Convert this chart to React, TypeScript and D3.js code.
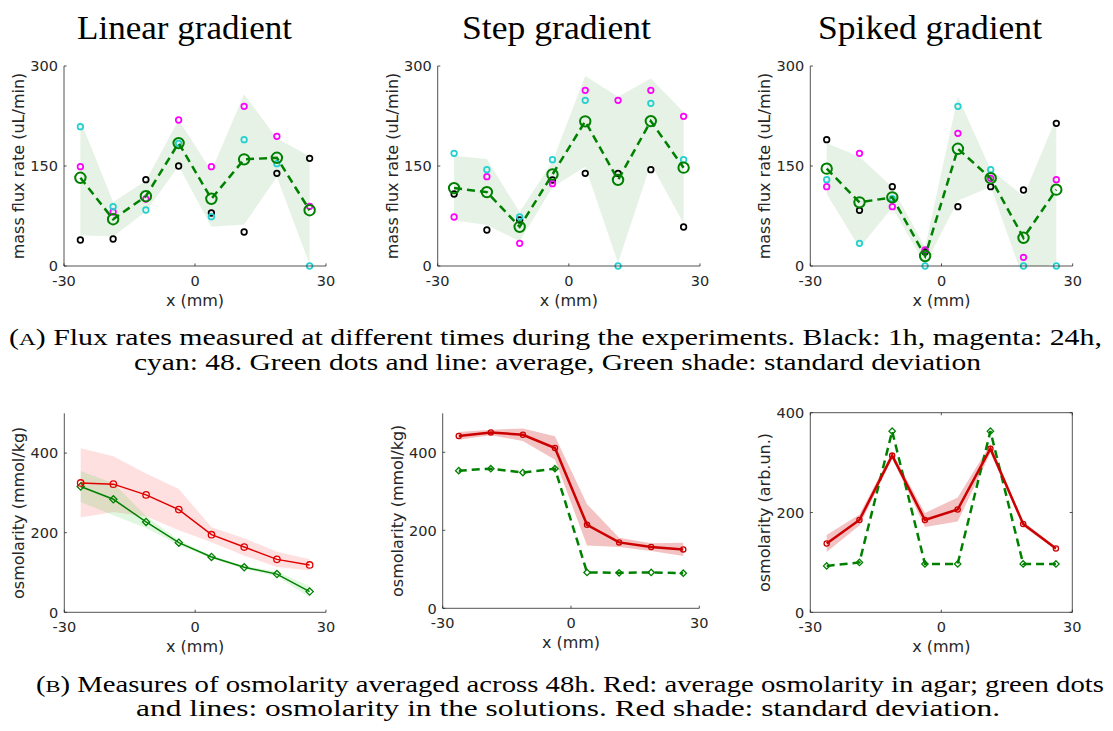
import React from 'react';
import * as d3 from 'd3';

// ---------- DATA ----------
const xPositions = [-26.25, -18.75, -11.25, -3.75, 3.75, 11.25, 18.75, 26.25];

// Flux rates (uL/min): black = 1h, magenta = 24h, cyan = 48h
const linearBlack = [39, 40.5, 129.5, 150, 79.5, 51, 139, 161.5];
const linearMagenta = [149, 81, 100.5, 219, 149, 239.5, 194.5, 89.5];
const linearCyan = [209, 89, 84, 184, 74, 189.5, 153.5, 0];

const stepBlack = [108, 54, 69, 129, 139, 139, 144.5, 58.5];
const stepMagenta = [73.5, 134, 34, 123.5, 263.5, 248.5, 263.5, 224.5];
const stepCyan = [169, 144.5, 73.5, 159.5, 248.5, 0, 244, 159.5];

const spikedBlack = [189.5, 83.5, 119, 21, 89, 119, 114, 214];
const spikedMagenta = [119, 169, 89, 24, 199, 131.5, 13, 129.5];
const spikedCyan = [129.5, 34, 101, 0, 239.5, 144.5, 0, 0];

// Osmolarity
const linearAgar = [325, 322, 295, 258, 195, 164, 133, 119];
const linearAgarSd = [87, 70, 54, 52, 19, 22, 19, 14];
const linearSolution = [316, 284, 227, 175, 139, 113, 96, 52];
const linearSolutionSd = [39, 40, 15, 6, 4, 4, 6, 14];

const stepAgar = [442, 451, 445, 411, 214, 169, 157, 151];
const stepAgarSd = [10, 7, 16, 30, 53, 12, 10, 17];
const stepSolution = [353, 358, 348, 358, 92, 91, 92, 90];

const spikedAgar = [138, 185, 314, 185, 206, 328, 177, 128];
const spikedAgarSd = [17, 11, 6, 14, 24, 9, 5, 3];
const spikedSolution = [93, 100, 363, 97, 97, 363, 97, 97];

const xTicks = [-30, 0, 30];
const fluxTicks = [0, 150, 300];
const osmoTicks = [0, 200, 400];

const titles = ['Linear gradient', 'Step gradient', 'Spiked gradient'];

// ---------- STYLE ----------
const AX = '#262626';
const SANS = 'DejaVu Sans';
const SERIF = 'Liberation Serif';
const GREEN = '#008000';
const CYAN = '#22d0d0';
const MAGENTA = '#ff00ff';

type Box = { left: number; right: number; top: number; bottom: number };

function Axes({ box, x, y, yTicks, yLabel, boxed }: any) {
  const tl = 2.6;
  return (
    <g>
      <line x1={box.left} y1={box.top} x2={box.left} y2={box.bottom} stroke={AX} strokeWidth={0.8} />
      <line x1={box.left} y1={box.bottom} x2={box.right} y2={box.bottom} stroke={AX} strokeWidth={0.8} />
      {boxed && (
        <g>
          <line x1={box.left} y1={box.top} x2={box.right} y2={box.top} stroke={AX} strokeWidth={0.8} />
          <line x1={box.right} y1={box.top} x2={box.right} y2={box.bottom} stroke={AX} strokeWidth={0.8} />
        </g>
      )}
      {yTicks.map((t: number) => (
        <g key={'y' + t}>
          <line x1={box.left} x2={box.left + tl} y1={y(t)} y2={y(t)} stroke={AX} strokeWidth={0.8} />
          {boxed && <line x1={box.right} x2={box.right - tl} y1={y(t)} y2={y(t)} stroke={AX} strokeWidth={0.8} />}
          <text x={box.left - 6} y={y(t)} dy="0.36em" textAnchor="end" fontFamily={SANS} fontSize={14.5} fill={AX}>
            {t}
          </text>
        </g>
      ))}
      {xTicks.map((t) => (
        <g key={'x' + t}>
          <line x1={x(t)} x2={x(t)} y1={box.bottom} y2={box.bottom - tl} stroke={AX} strokeWidth={0.8} />
          {boxed && <line x1={x(t)} x2={x(t)} y1={box.top} y2={box.top + tl} stroke={AX} strokeWidth={0.8} />}
          <text x={x(t)} y={box.bottom + 19.5} textAnchor="middle" fontFamily={SANS} fontSize={14.5} fill={AX}>
            {t}
          </text>
        </g>
      ))}
      <text
        x={(box.left + box.right) / 2}
        y={box.bottom + 40}
        textAnchor="middle"
        fontFamily={SANS}
        fontSize={16}
        fill={AX}
      >
        x (mm)
      </text>
      <text
        transform={`translate(${box.left - 40},${(box.top + box.bottom) / 2}) rotate(-90)`}
        textAnchor="middle"
        fontFamily={SANS}
        fontSize={16}
        fill={AX}
      >
        {yLabel}
      </text>
    </g>
  );
}

function FluxPanel({ id, box, black, magenta, cyan }: { id: string; box: Box; black: number[]; magenta: number[]; cyan: number[] }) {
  const x = d3.scaleLinear().domain([-30, 30]).range([box.left, box.right]);
  const y = d3.scaleLinear().domain([0, 300]).range([box.bottom, box.top]);
  const mean = xPositions.map((_, i) => d3.mean([black[i], magenta[i], cyan[i]]) as number);
  const sd = xPositions.map((_, i) => d3.deviation([black[i], magenta[i], cyan[i]]) as number);
  const area = d3
    .area<number>()
    .x((_, i) => x(xPositions[i]))
    .y0((m, i) => y(m - sd[i]))
    .y1((m, i) => y(m + sd[i]));
  const line = d3
    .line<number>()
    .x((_, i) => x(xPositions[i]))
    .y((m) => y(m));
  const series: [number[], string][] = [
    [black, '#000000'],
    [magenta, MAGENTA],
    [cyan, CYAN],
  ];
  return (
    <g>
      <defs>
        <clipPath id={id}>
          <rect x={box.left} y={box.top} width={box.right - box.left} height={box.bottom - box.top} />
        </clipPath>
      </defs>
      <path d={area(mean) || ''} fill={GREEN} fillOpacity={0.1} clipPath={`url(#${id})`} />
      {series.map(([vals, col], s) =>
        vals.map((v, i) => (
          <circle key={s + '-' + i} cx={x(xPositions[i])} cy={y(v)} r={2.8} fill="none" stroke={col} strokeWidth={1.7} />
        ))
      )}
      <path d={line(mean) || ''} fill="none" stroke={GREEN} strokeWidth={2.5} strokeDasharray="8,5" />
      {mean.map((m, i) => (
        <circle key={'m' + i} cx={x(xPositions[i])} cy={y(m)} r={5.2} fill="none" stroke={GREEN} strokeWidth={2} />
      ))}
      <Axes box={box} x={x} y={y} yTicks={fluxTicks} yLabel="mass flux rate (uL/min)" />
    </g>
  );
}

function diamond(cx: number, cy: number, r: number) {
  return `M${cx},${cy - r}L${cx + r},${cy}L${cx},${cy + r}L${cx - r},${cy}Z`;
}

function OsmoPanel({
  id,
  box,
  yMax,
  agar,
  agarSd,
  solution,
  solutionSd,
  thick,
  boxed,
  yLabel,
  agarColor,
  agarShadeOpacity,
}: any) {
  const x = d3.scaleLinear().domain([-30, 30]).range([box.left, box.right]);
  const y = d3.scaleLinear().domain([0, yMax]).range([box.bottom, box.top]);
  const band = (sd: number[]) =>
    d3
      .area<number>()
      .x((_, i) => x(xPositions[i]))
      .y0((m, i) => y(m - sd[i]))
      .y1((m, i) => y(m + sd[i]));
  const line = d3
    .line<number>()
    .x((_, i) => x(xPositions[i]))
    .y((m) => y(m));
  const lw = thick ? 2.5 : 1.5;
  return (
    <g>
      <defs>
        <clipPath id={id}>
          <rect x={box.left} y={box.top} width={box.right - box.left} height={box.bottom - box.top} />
        </clipPath>
      </defs>
      <g clipPath={`url(#${id})`}>
        <path d={band(agarSd)(agar) || ''} fill={thick ? '#cc0000' : '#ff0000'} fillOpacity={agarShadeOpacity} />
        {solutionSd && <path d={band(solutionSd)(solution) || ''} fill="#00c000" fillOpacity={0.13} />}
      </g>
      <path
        d={line(solution) || ''}
        fill="none"
        stroke={GREEN}
        strokeWidth={lw}
        strokeDasharray={thick ? '8,5' : undefined}
      />
      {solution.map((v: number, i: number) => (
        <path key={'s' + i} d={diamond(x(xPositions[i]), y(v), thick ? 3.2 : 3.6)} fill="none" stroke={GREEN} strokeWidth={1.3} />
      ))}
      <path d={line(agar) || ''} fill="none" stroke={agarColor} strokeWidth={lw} />
      {agar.map((v: number, i: number) => (
        <circle key={'a' + i} cx={x(xPositions[i])} cy={y(v)} r={thick ? 2.6 : 3.2} fill="none" stroke={agarColor} strokeWidth={1.3} />
      ))}
      <Axes box={box} x={x} y={y} yTicks={osmoTicks} yLabel={yLabel} boxed={boxed} />
    </g>
  );
}

const fluxBoxes: Box[] = [
  { left: 64, right: 326, top: 66, bottom: 266 },
  { left: 437.7, right: 700, top: 66, bottom: 266 },
  { left: 810.3, right: 1072.7, top: 66, bottom: 266 },
];
const osmoBoxes: Box[] = [
  { left: 64.3, right: 326, top: 413.3, bottom: 612.3 },
  { left: 442.7, right: 699.3, top: 413.3, bottom: 608.3 },
  { left: 810.3, right: 1072.3, top: 412.7, bottom: 612.3 },
];
const titleSpans = [
  [77, 292],
  [462, 651],
  [818, 1042],
];

export default function App() {
  const capSize = 22.5;
  return (
    <svg
      width={1113}
      height={731}
      viewBox="0 0 1113 731"
      style={{ position: 'absolute', left: 0, top: 0, background: '#fff' }}
    >
      <rect x={0} y={0} width={1113} height={731} fill="#fff" />
      {titles.map((t, i) => (
        <text
          key={t}
          x={titleSpans[i][0]}
          y={39}
          textLength={titleSpans[i][1] - titleSpans[i][0]}
          lengthAdjust="spacingAndGlyphs"
          fontFamily={SERIF}
          fontSize={34}
          fill="#000"
        >
          {t}
        </text>
      ))}

      <FluxPanel id="c1" box={fluxBoxes[0]} black={linearBlack} magenta={linearMagenta} cyan={linearCyan} />
      <FluxPanel id="c2" box={fluxBoxes[1]} black={stepBlack} magenta={stepMagenta} cyan={stepCyan} />
      <FluxPanel id="c3" box={fluxBoxes[2]} black={spikedBlack} magenta={spikedMagenta} cyan={spikedCyan} />

      <text x={9} y={345} textLength={1093} lengthAdjust="spacingAndGlyphs" fontFamily={SERIF} fontSize={capSize} fill="#000">
        (<tspan fontSize={capSize * 0.78}>A</tspan>) Flux rates measured at different times during the experiments.  Black: 1h, magenta: 24h,
      </text>
      <text x={134} y={370} textLength={847} lengthAdjust="spacingAndGlyphs" fontFamily={SERIF} fontSize={capSize} fill="#000">
        cyan: 48. Green dots and line: average, Green shade: standard deviation
      </text>

      <OsmoPanel
        id="o1"
        box={osmoBoxes[0]}
        yMax={500}
        agar={linearAgar}
        agarSd={linearAgarSd}
        solution={linearSolution}
        solutionSd={linearSolutionSd}
        thick={false}
        yLabel="osmolarity (mmol/kg)"
        agarColor="#e00000"
        agarShadeOpacity={0.12}
      />
      <OsmoPanel
        id="o2"
        box={osmoBoxes[1]}
        yMax={500}
        agar={stepAgar}
        agarSd={stepAgarSd}
        solution={stepSolution}
        thick={true}
        yLabel="osmolarity (mmol/kg)"
        agarColor="#cc0000"
        agarShadeOpacity={0.24}
      />
      <OsmoPanel
        id="o3"
        box={osmoBoxes[2]}
        yMax={400}
        agar={spikedAgar}
        agarSd={spikedAgarSd}
        solution={spikedSolution}
        thick={true}
        boxed={true}
        yLabel="osmolarity (arb.un.)"
        agarColor="#cc0000"
        agarShadeOpacity={0.24}
      />

      <text x={36} y={692} textLength={1068} lengthAdjust="spacingAndGlyphs" fontFamily={SERIF} fontSize={capSize} fill="#000">
        (<tspan fontSize={capSize * 0.78}>B</tspan>) Measures of osmolarity averaged across 48h.  Red: average osmolarity in agar; green dots
      </text>
      <text x={136} y={716} textLength={864} lengthAdjust="spacingAndGlyphs" fontFamily={SERIF} fontSize={capSize} fill="#000">
        and lines: osmolarity in the solutions. Red shade: standard deviation.
      </text>
    </svg>
  );
}
